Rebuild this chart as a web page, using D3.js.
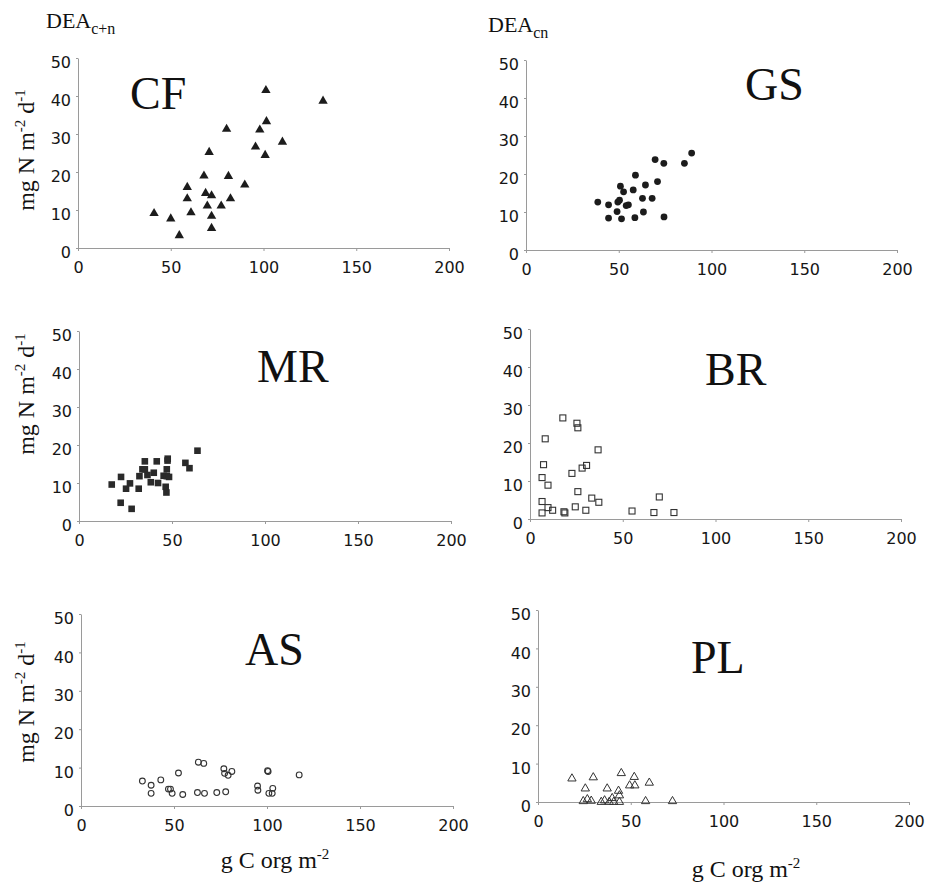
<!DOCTYPE html>
<html>
<head>
<meta charset="utf-8">
<script src="https://cdn.jsdelivr.net/npm/d3@7"></script>
<style>
  body { margin: 0; background: #fff; }
  svg { display: block; }
</style>
</head>
<body>
<script>
// data, [g C org m-2, mg N m-2 d-1]
var cfPoints = [[41,9.1],[50,7.7],[54.6,3.3],[58.9,16],[58.9,13],[60.9,9.3],[67.9,19],[68.8,14.4],
  [70.7,25.2],[72,13.8],[69.7,11.1],[72,8.4],[72,5.2],[77.2,11.1],[80.1,31.3],[81.1,18.9],[82.2,13],
  [89.9,16.6],[95.7,26.6],[98,31.1],[101.3,41.5],[101.6,33.3],[100.9,24.4],[110.2,27.9],[132.1,38.7]];
var gsPoints = [[38.7,12.6],[44.5,11.9],[44.5,8.4],[49.1,10.1],[49.5,12.6],[50.4,13.1],[50.9,16.8],
  [52.6,15.3],[51.5,8.2],[54,11.7],[55.2,11.9],[57.8,15.8],[59,19.7],[58.7,8.5],[62.8,13.6],[63.3,10],
  [64.4,17.1],[68,13.6],[69.6,23.8],[70.9,18],[74.3,22.8],[74.4,8.7],[85.4,22.8],[89.3,25.5]];
var mrPoints = [[17.6,9.6],[22.4,4.8],[22.6,11.6],[25.3,8.5],[27.4,9.9],[28.3,3.2],[32.1,8.5],[32.5,11.8],
  [34.1,13.6],[35.4,15.7],[35.4,13.6],[36.8,12.1],[38.6,10.2],[40.2,12.7],[41.8,15.7],[42.5,10],
  [45.5,11.9],[46.6,9],[47,7.5],[47.2,13.6],[47.2,11.8],[47.7,16.4],[47.6,15.9],[48.4,11.6],
  [57.2,15.3],[59.4,13.9],[63.7,18.5]];
var brPoints = [[6.5,1.6],[6.5,4.6],[6.5,10.9],[7.3,14.3],[8.2,21.1],[9.7,8.9],[9.7,3],[12.2,2.3],
  [17.7,26.6],[18.3,1.9],[18.8,1.6],[22.6,12],[24.4,3.2],[25.3,25.2],[25.8,24],[25.8,7.2],[28.1,13.4],
  [30.5,14.1],[30.1,2.3],[33.3,5.5],[36.7,18.2],[37.1,4.4],[55,2.1],[66.8,1.7],[69.7,5.8],[77.6,1.7]];
var asPoints = [[33,6.5],[37.7,5.4],[37.7,3.3],[42.9,6.8],[47,4.4],[48.1,4.4],[49,3.3],[52.4,8.6],
  [54.7,3],[62.6,3.5],[63.1,11.4],[66,11.1],[66.4,3.3],[73,3.5],[76.8,9.7],[77.2,8.5],[77.8,3.7],
  [79.1,8],[81.1,9],[94.9,5.2],[95.1,4.1],[100.3,9.2],[100.6,9],[101,3.3],[102.8,3.3],[103.1,4.6],[117.3,8.1]];
var plPoints = [[18.3,6.1],[25.5,3.5],[24.4,0.2],[26.6,0.7],[28.7,0.3],[29.8,6.4],[34.1,0],[35.9,0.4],
  [37.3,3.5],[38.4,0],[40,1],[40.8,0],[43.4,2.9],[43.9,1.7],[43.9,0],[44.9,7.5],[49.4,4.3],[51.9,6.5],
  [52.2,4.3],[58,0.2],[60,5],[72.5,0.2]];

var xTicks = [0, 50, 100, 150, 200];
var yTicks = [0, 10, 20, 30, 40, 50];

var W = 931, H = 885;
var svg = d3.select("body").append("svg").attr("width", W).attr("height", H);

// layout of each panel (pixel box of the plot area) and its marker type
var panels = [
  {name: "CF", data: cfPoints, mark: "triFill",  l: 78,  r: 449, t: 58,  b: 248, tx: 130, ty: 109},
  {name: "GS", data: gsPoints, mark: "dot",      l: 526, r: 897, t: 60,  b: 250, tx: 745, ty: 100},
  {name: "MR", data: mrPoints, mark: "sqFill",   l: 79,  r: 451, t: 331, b: 521, tx: 257, ty: 382},
  {name: "BR", data: brPoints, mark: "sqOpen",   l: 530, r: 901, t: 329, b: 519, tx: 705, ty: 385},
  {name: "AS", data: asPoints, mark: "circOpen", l: 81,  r: 453, t: 614, b: 806, tx: 245, ty: 665},
  {name: "PL", data: plPoints, mark: "triOpen",  l: 538, r: 909, t: 610, b: 802, tx: 691, ty: 673}
];

var ink = "#1c1c1c";
var tri = d3.symbol().type(d3.symbolTriangle).size(38)();
var triSmall = d3.symbol().type(d3.symbolTriangle).size(30)();

panels.forEach(function(p) {
  var x = d3.scaleLinear().domain([0, 200]).range([p.l, p.r]);
  var y = d3.scaleLinear().domain([0, 50]).range([p.b, p.t]);

  var ax = svg.append("g")
    .attr("transform", "translate(0," + p.b + ")")
    .call(d3.axisBottom(x).tickValues(xTicks).tickSizeInner(3).tickSizeOuter(0).tickPadding(11));
  var ay = svg.append("g")
    .attr("transform", "translate(" + p.l + ",0)")
    .call(d3.axisLeft(y).tickValues(yTicks).tickSizeInner(2).tickSizeOuter(0).tickPadding(5));

  [ax, ay].forEach(function(a) {
    a.select(".domain").attr("stroke", "#9a9a9a");
    a.selectAll(".tick line").attr("stroke", "#9a9a9a");
    a.selectAll(".tick text")
      .attr("fill", "#161616")
      .style("font-family", "'DejaVu Sans', sans-serif")
      .style("font-size", "16px");
  });
  ay.selectAll(".tick text").attr("dy", "0.6em");

  var g = svg.append("g");
  var pts = g.selectAll("path,circle,rect").data(p.data).enter();
  if (p.mark === "dot") {
    pts.append("circle").attr("cx", d => x(d[0])).attr("cy", d => y(d[1])).attr("r", 3.4).attr("fill", ink);
  } else if (p.mark === "circOpen") {
    pts.append("circle").attr("cx", d => x(d[0])).attr("cy", d => y(d[1])).attr("r", 2.9)
      .attr("fill", "none").attr("stroke", "#333").attr("stroke-width", 1.1);
  } else if (p.mark === "sqFill") {
    pts.append("rect").attr("x", d => x(d[0]) - 3.3).attr("y", d => y(d[1]) - 3.3)
      .attr("width", 6.6).attr("height", 6.6).attr("fill", "#2a2a2a");
  } else if (p.mark === "sqOpen") {
    pts.append("rect").attr("x", d => x(d[0]) - 3).attr("y", d => y(d[1]) - 3)
      .attr("width", 6).attr("height", 6).attr("fill", "none").attr("stroke", "#333").attr("stroke-width", 1.1);
  } else if (p.mark === "triFill") {
    pts.append("path").attr("d", tri).attr("transform", d => "translate(" + x(d[0]) + "," + y(d[1]) + ")")
      .attr("fill", ink);
  } else {
    pts.append("path").attr("d", triSmall).attr("transform", d => "translate(" + x(d[0]) + "," + y(d[1]) + ")")
      .attr("fill", "none").attr("stroke", "#333").attr("stroke-width", 1);
  }

  svg.append("text")
    .attr("x", p.tx).attr("y", p.ty)
    .style("font-family", "'Liberation Serif', 'Times New Roman', serif")
    .style("font-size", "46px")
    .attr("fill", "#111")
    .text(p.name);
});

// DEA headers
function dea(xp, yp, sub) {
  var t = svg.append("text").attr("x", xp).attr("y", yp)
    .style("font-family", "'Liberation Serif', 'Times New Roman', serif")
    .style("font-size", "22px").attr("fill", "#111");
  t.append("tspan").text("DEA");
  t.append("tspan").attr("dy", 6).style("font-size", "16px").text(sub);
}
dea(46, 28, "c+n");
dea(488, 32, "cn");

// y axis titles, left column only
[150, 394, 702].forEach(function(cy) {
  var t = svg.append("text")
    .attr("transform", "translate(34," + cy + ") rotate(-90)")
    .attr("text-anchor", "middle")
    .style("font-family", "'Liberation Serif', 'Times New Roman', serif")
    .style("font-size", "24px").attr("fill", "#111");
  t.append("tspan").text("mg N m");
  t.append("tspan").attr("dy", -9).style("font-size", "15px").text("-2");
  t.append("tspan").attr("dy", 9).text(" d");
  t.append("tspan").attr("dy", -9).style("font-size", "15px").text("-1");
});

// x axis titles, bottom row
[[275, 868], [746, 877]].forEach(function(pos) {
  var t = svg.append("text")
    .attr("x", pos[0]).attr("y", pos[1])
    .attr("text-anchor", "middle")
    .style("font-family", "'Liberation Serif', 'Times New Roman', serif")
    .style("font-size", "24px").attr("fill", "#111");
  t.append("tspan").text("g C org m");
  t.append("tspan").attr("dy", -9).style("font-size", "15px").text("-2");
});
</script>
</body>
</html>
